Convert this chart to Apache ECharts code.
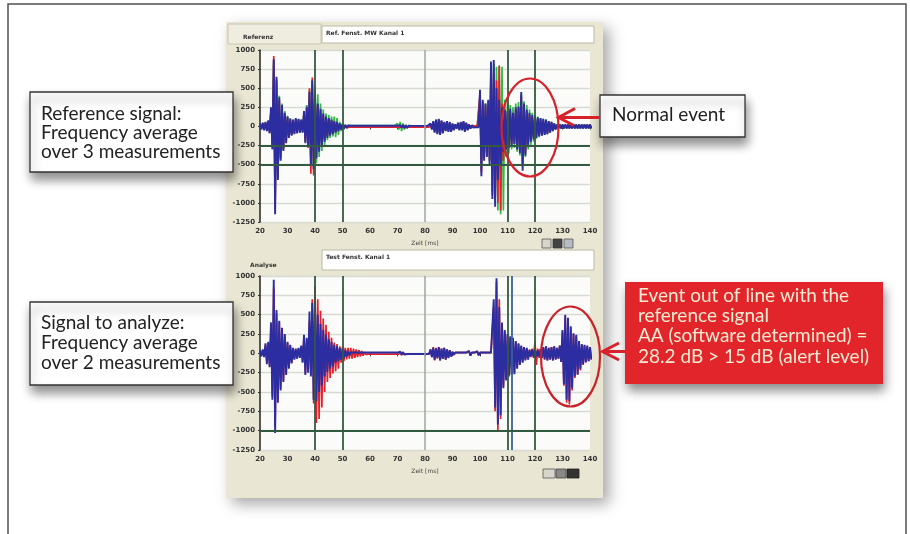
<!DOCTYPE html>
<html><head><meta charset="utf-8">
<script src="https://cdn.jsdelivr.net/npm/echarts@6/dist/echarts.min.js"></script>
<style>html,body{margin:0;padding:0;background:#fff}#c{width:910px;height:534px}</style>
</head><body><div id="c"></div>
<script>
// x positions (ms), one envelope value per ms from 20 to 140
const xStart = 20;
const xTicks = [20,30,40,50,60,70,80,90,100,110,120,130,140];
const yTicks = [1000,750,500,250,0,-250,-500,-750,-1000,-1250];
const xTitle = 'Zeit [ms]';

// Reference chart (3 measurements): upper / lower envelopes
const refBlueHi = [40,50,60,80,250,880,650,380,280,180, 130,100,90,110,100,90,200,260,450,600, 420,300,230,170,130,110,90,70,60,40, 30,20,12,10,10,10,10,10,10,10, 10,10,10,10,10,10,10,10,10,10, 10,15,20,15,10,8,8,8,8,8, 8,8,40,70,90,100,80,60,70,60, 40,30,50,60,70,50,30,15,10,10, 480,350,300,350,850,870,500,350,250,220, 200,230,180,250,260,450,300,220,180,150, 130,120,110,100,90,70,60,40,25,25, 25,25,25,25,25,25,25,25,25,25, 25];
const refBlueLo = [-40,-50,-60,-90,-300,-1150,-700,-450,-320,-220, -150,-120,-100,-90,-80,-80,-220,-260,-500,-560, -420,-330,-260,-200,-150,-120,-100,-80,-60,-40, -30,-20,-12,-10,-10,-10,-10,-10,-10,-10, -10,-10,-10,-10,-10,-10,-10,-10,-10,-10, -10,-15,-20,-20,-10,-8,-8,-8,-8,-8, -8,-8,-40,-80,-100,-110,-90,-60,-70,-70, -50,-30,-50,-50,-70,-50,-30,-15,-10,-10, -650,-450,-400,-500,-950,-1050,-700,-500,-330,-300, -280,-250,-230,-300,-350,-580,-380,-250,-200,-170, -150,-130,-120,-110,-100,-80,-60,-40,-25,-25, -25,-25,-25,-25,-25,-25,-25,-25,-25,-25, -25];
const refRedHi = [30,40,50,70,220,920,600,350,250,160, 120,90,80,90,90,80,180,240,500,640, 380,280,200,150,120,100,80,60,50,30, 25,15,10,8,8,8,8,8,8,8, 8,8,8,8,8,8,8,8,8,8, 8,10,12,10,8,8,8,8,8,8, 8,8,30,60,80,90,70,50,60,50, 30,25,40,50,60,40,25,12,8,8, 420,320,280,330,800,700,600,790,300,200, 180,200,170,220,240,400,280,200,160,130, 110,100,90,80,70,60,50,35,20,20, 20,20,20,20,20,20,20,20,20,20, 20];
const refRedLo = [-30,-40,-50,-80,-280,-1100,-650,-420,-300,-200, -140,-110,-90,-80,-70,-70,-200,-280,-620,-640, -400,-300,-240,-180,-130,-110,-90,-70,-50,-30, -25,-15,-10,-8,-8,-8,-8,-8,-8,-8, -8,-8,-8,-8,-8,-8,-8,-8,-8,-8, -8,-10,-12,-10,-8,-8,-8,-8,-8,-8, -8,-8,-30,-70,-90,-100,-80,-50,-60,-60, -40,-25,-40,-40,-60,-40,-25,-12,-8,-8, -600,-420,-380,-450,-900,-950,-1000,-1100,-450,-300, -260,-230,-210,-280,-320,-520,-350,-230,-180,-150, -130,-120,-110,-100,-90,-70,-50,-35,-20,-20, -20,-20,-20,-20,-20,-20,-20,-20,-20,-20, -20];
const refGreenHi = [30,40,50,60,200,850,620,400,300,200, 140,110,90,100,90,90,190,280,480,560, 520,420,300,220,170,150,130,130,110,60, 40,20,12,10,10,10,10,10,10,10, 10,10,10,10,10,10,10,10,10,10, 40,60,40,20,10,8,8,8,8,8, 8,8,35,60,90,90,70,55,60,50, 35,25,45,55,60,45,25,12,8,8, 400,330,300,330,700,820,780,800,780,350, 300,280,250,300,320,420,330,280,220,180, 150,130,110,100,90,70,60,40,25,25, 25,25,25,25,25,25,25,25,25,25, 25];
const refGreenLo = [-30,-40,-50,-70,-250,-1000,-680,-420,-300,-200, -140,-110,-90,-80,-80,-80,-200,-240,-420,-520, -480,-400,-320,-250,-180,-150,-130,-140,-110,-60, -40,-20,-12,-10,-10,-10,-10,-10,-10,-10, -10,-10,-10,-10,-10,-10,-10,-10,-10,-10, -40,-60,-40,-20,-10,-8,-8,-8,-8,-8, -8,-8,-35,-70,-90,-100,-80,-55,-60,-60, -40,-25,-40,-45,-60,-45,-25,-12,-8,-8, -550,-420,-380,-450,-850,-1000,-1100,-1150,-1100,-400, -350,-300,-280,-330,-380,-500,-400,-300,-250,-200, -160,-140,-120,-110,-100,-80,-60,-40,-25,-25, -25,-25,-25,-25,-25,-25,-25,-25,-25,-25, -25];

// Analysed chart (2 measurements)
const anaBlueHi = [40,50,130,150,400,950,560,420,330,250, 150,110,70,60,70,100,240,200,540,650, 670,500,380,300,240,180,150,110,90,70, 60,40,25,10,10,10,10,10,10,10, 10,10,10,10,10,10,10,10,10,10, 10,20,15,8,8,8,8,8,8,8, 8,8,50,70,60,80,60,70,50,40, 20,10,10,10,10,10,30,10,10,25, 10,10,10,10,10,700,970,600,400,300, 250,220,200,160,130,100,80,70,40,50, 40,40,50,80,90,70,80,90,70,100, 300,500,460,350,260,240,160,120,110,100, 80];
const anaBlueLo = [-40,-50,-140,-180,-600,-1030,-640,-480,-370,-280, -200,-130,-80,-70,-60,-120,-280,-250,-300,-600, -620,-500,-420,-300,-240,-200,-170,-120,-100,-80, -60,-40,-25,-10,-10,-10,-10,-10,-10,-10, -10,-10,-10,-10,-10,-10,-10,-10,-10,-10, -10,-20,-15,-8,-8,-8,-8,-8,-8,-8, -8,-8,-50,-80,-60,-90,-70,-80,-60,-40, -20,-10,-10,-10,-10,-10,-30,-10,-10,-25, -10,-10,-10,-10,-10,-700,-920,-800,-450,-350, -300,-280,-270,-200,-150,-120,-90,-80,-40,-50, -40,-40,-60,-80,-90,-80,-90,-80,-70,-110, -400,-600,-620,-450,-300,-270,-200,-140,-110,-100, -80];
const anaRedHi = [30,40,110,130,350,850,520,400,320,240, 140,100,60,50,60,90,220,180,420,700, 870,700,550,450,370,280,200,140,120,90, 80,70,70,70,60,50,40,30,15,10, 10,10,10,10,10,10,10,10,10,10, 10,25,15,8,8,8,8,8,8,8, 8,8,50,80,70,80,60,70,50,40, 20,10,10,10,10,10,30,10,10,25, 10,10,10,10,10,600,930,700,380,280, 230,200,180,150,120,90,70,60,50,60, 150,60,60,80,90,70,80,90,70,100, 280,480,440,330,250,220,150,110,100,90, 70];
const anaRedLo = [-30,-40,-120,-160,-550,-950,-600,-450,-350,-260, -190,-120,-70,-60,-50,-110,-260,-230,-280,-650, -900,-850,-700,-500,-370,-320,-260,-230,-200,-120, -100,-80,-70,-70,-60,-50,-40,-30,-15,-10, -10,-10,-10,-10,-10,-10,-10,-10,-10,-10, -10,-25,-15,-8,-8,-8,-8,-8,-8,-8, -8,-8,-50,-90,-70,-90,-70,-80,-60,-40, -20,-10,-10,-10,-10,-10,-30,-10,-10,-25, -10,-10,-10,-10,-10,-750,-1000,-850,-430,-330, -280,-260,-250,-190,-140,-110,-80,-70,-50,-60, -150,-60,-60,-80,-90,-80,-90,-80,-70,-110, -420,-640,-660,-480,-320,-280,-220,-150,-120,-100, -80];

// cursor lines
const refCursorX = [40, 50, 110, 120];
const refCursorY = [-250, -500];
const anaCursorX = [40, 50, 110, 120];
const anaCursorX2 = [111.5];
const anaCursorY = [-1000];
const midLineX = [80];

// ---------------------------------------------------------------
const C_BLUE = '#2B2DA0', C_RED = '#E3202B', C_GREEN = '#33B843';
const CUR = '#335A40';

function wave(hi, lo) {
  const pts = [];
  for (let i = 0; i < hi.length; i++) {
    pts.push([xStart + i, hi[i]]);
    pts.push([xStart + i + 0.5, lo[i]]);
  }
  return pts;
}
function waveSeries(idx, hi, lo, color, z, width, mark) {
  const s = {
    type: 'line', xAxisIndex: idx, yAxisIndex: idx, data: wave(hi, lo),
    showSymbol: false, symbol: 'none', z: z, silent: true,
    lineStyle: { color: color, width: width }, animation: false
  };
  if (mark) s.markLine = mark;
  return s;
}
function cursors(xs, ys, xs2) {
  const d = [];
  midLineX.forEach(v => d.push({ xAxis: v, lineStyle: { color: '#9DA89E', width: 1.5, type: 'solid' } }));
  xs.forEach(v => d.push({ xAxis: v, lineStyle: { color: CUR, width: 1.8, type: 'solid' } }));
  (xs2 || []).forEach(v => d.push({ xAxis: v, lineStyle: { color: '#3D5E9A', width: 1.8, type: 'solid' } }));
  ys.forEach(v => d.push({ yAxis: v, lineStyle: { color: CUR, width: 1.8, type: 'solid' } }));
  return { symbol: ['none', 'none'], silent: true, label: { show: false }, data: d, animation: false };
}

const axisLbl = { fontSize: 7, fontWeight: 'bold', color: '#333', fontFamily: 'DejaVu Sans' };
function xAx(i) {
  return {
    type: 'value', gridIndex: i, min: 20, max: 140, interval: 10,
    axisLine: { show: false }, axisTick: { show: true, length: 3, lineStyle: { color: '#333' } },
    axisLabel: Object.assign({ margin: 6, formatter: v => xTicks.includes(v) ? String(v) : '' }, axisLbl),
    splitLine: { show: false },
    name: xTitle, nameLocation: 'middle', nameGap: 18,
    nameTextStyle: { fontSize: 6, color: '#444', fontFamily: 'DejaVu Sans' }
  };
}
function yAx(i) {
  return {
    type: 'value', gridIndex: i, min: -1250, max: 1000, interval: 250,
    axisLine: { show: true, lineStyle: { color: '#222', width: 1.5 } },
    axisTick: { show: true, length: 2, lineStyle: { color: '#333' } },
    axisLabel: Object.assign({ margin: 5, formatter: v => yTicks.includes(v) ? String(v) : '' }, axisLbl),
    splitLine: { show: true, lineStyle: { color: '#D6DAD2', width: 1.3 } }
  };
}

// decorations
const fontA = '19px Lato';
function txt(x, y, s, font, fill, align) {
  return { type: 'text', x: x, y: y, z: 100, silent: true,
    style: { text: s, font: font, fill: fill || '#222', align: align || 'left', verticalAlign: 'middle', textVerticalAlign: 'middle' } };
}
const RED = '#D6222B';
const graphic = [
  // outer frame
  { type: 'rect', z: -20, shape: { x: 8, y: 4, width: 898, height: 560 }, style: { fill: '#fff', stroke: '#505050', lineWidth: 1.5 } },
  // software panel
  { type: 'rect', z: -10, shape: { x: 226, y: 22, width: 377, height: 476 },
    style: { fill: '#E9E6D3', shadowBlur: 14, shadowColor: 'rgba(0,0,0,0.35)', shadowOffsetX: 6, shadowOffsetY: 6 } },
  // tab & text fields
  { type: 'rect', z: -5, shape: { x: 228, y: 24, width: 93, height: 20 }, style: { fill: '#EFEDE0', stroke: '#C9C5B0', lineWidth: 1 } },
  txt(243, 37, 'Referenz', 'bold 6px DejaVu Sans', '#333'),
  { type: 'rect', z: 5, shape: { x: 322, y: 26, width: 272, height: 17 }, style: { fill: '#fff', stroke: '#BDB9A4', lineWidth: 1 } },
  txt(326, 33, 'Ref. Fenst. MW Kanal 1', 'bold 6px DejaVu Sans', '#333'),
  txt(250, 265, 'Analyse', 'bold 6px DejaVu Sans', '#333'),
  { type: 'rect', z: 5, shape: { x: 322, y: 250, width: 272, height: 20 }, style: { fill: '#fff', stroke: '#BDB9A4', lineWidth: 1 } },
  txt(326, 257, 'Test Fenst. Kanal 1', 'bold 6px DejaVu Sans', '#333'),
  // toolbar icons
  { type: 'rect', z: 5, shape: { x: 542, y: 239, width: 9, height: 9 }, style: { fill: '#D8D6CC', stroke: '#555', lineWidth: 0.8 } },
  { type: 'rect', z: 5, shape: { x: 553, y: 239, width: 9, height: 9 }, style: { fill: '#444', stroke: '#333', lineWidth: 0.8 } },
  { type: 'rect', z: 5, shape: { x: 564, y: 239, width: 9, height: 9 }, style: { fill: '#B8BBC4', stroke: '#555', lineWidth: 0.8 } },
  { type: 'rect', z: 5, shape: { x: 543, y: 469, width: 12, height: 9 }, style: { fill: '#D8D6CC', stroke: '#555', lineWidth: 0.8 } },
  { type: 'rect', z: 5, shape: { x: 556, y: 469, width: 10, height: 9 }, style: { fill: '#888', stroke: '#444', lineWidth: 0.8 } },
  { type: 'rect', z: 5, shape: { x: 567, y: 469, width: 12, height: 9 }, style: { fill: '#333', stroke: '#222', lineWidth: 0.8 } },

  // annotation box 1
  { type: 'rect', z: 90, shape: { x: 30, y: 92, width: 203, height: 80 },
    style: { fill: '#fff', stroke: '#333', lineWidth: 1.3, shadowBlur: 10, shadowColor: 'rgba(0,0,0,0.45)', shadowOffsetX: 2, shadowOffsetY: 7 } },
  txt(41, 114, 'Reference signal:', fontA),
  txt(41, 133, 'Frequency average', fontA),
  txt(41, 152, 'over 3 measurements', fontA),
  // annotation box 2
  { type: 'rect', z: 90, shape: { x: 30, y: 302, width: 203, height: 83 },
    style: { fill: '#fff', stroke: '#333', lineWidth: 1.3, shadowBlur: 10, shadowColor: 'rgba(0,0,0,0.45)', shadowOffsetX: 2, shadowOffsetY: 7 } },
  txt(41, 323, 'Signal to analyze:', fontA),
  txt(41, 343, 'Frequency average', fontA),
  txt(41, 363, 'over 2 measurements', fontA),
  // normal event box
  { type: 'rect', z: 90, shape: { x: 600, y: 95, width: 145, height: 42 },
    style: { fill: '#fff', stroke: '#333', lineWidth: 1.3, shadowBlur: 10, shadowColor: 'rgba(0,0,0,0.45)', shadowOffsetX: 2, shadowOffsetY: 7 } },
  txt(612, 115, 'Normal event', fontA),
  // red alert box
  { type: 'rect', z: 90, shape: { x: 625, y: 282, width: 258, height: 102 },
    style: { fill: '#E2252A', shadowBlur: 10, shadowColor: 'rgba(0,0,0,0.45)', shadowOffsetX: 2, shadowOffsetY: 7 } },
  txt(638, 296, 'Event out of line with the', fontA, '#FBEBD2'),
  txt(638, 316, 'reference signal', fontA, '#FBEBD2'),
  txt(638, 336, 'AA (software determined) =', fontA, '#FBEBD2'),
  txt(638, 357, '28.2 dB > 15 dB (alert level)', fontA, '#FBEBD2'),

  // ellipses
  { type: 'ellipse', z: 95, shape: { cx: 530, cy: 127.5, rx: 28.5, ry: 49 }, style: { fill: 'none', stroke: RED, lineWidth: 2.2 } },
  { type: 'ellipse', z: 95, shape: { cx: 570.5, cy: 356.5, rx: 29.5, ry: 50 }, style: { fill: 'none', stroke: '#C8232B', lineWidth: 2.2 } },
  // arrows
  { type: 'polyline', z: 95, shape: { points: [[600, 117.5], [560, 117.5]] }, style: { stroke: RED, lineWidth: 3, fill: 'none' } },
  { type: 'polyline', z: 95, shape: { points: [[575, 108.5], [558.5, 117.5], [574, 125.5]] }, style: { stroke: RED, lineWidth: 3, fill: 'none', lineJoin: 'miter' } },
  { type: 'polyline', z: 95, shape: { points: [[625, 351.5], [604, 351.5]] }, style: { stroke: RED, lineWidth: 3, fill: 'none' } },
  { type: 'polyline', z: 95, shape: { points: [[619, 343], [602.5, 351.5], [619, 360]] }, style: { stroke: RED, lineWidth: 3, fill: 'none', lineJoin: 'miter' } }
];

const chart = echarts.init(document.getElementById('c'), null, { renderer: 'canvas' });
chart.setOption({
  animation: false,
  backgroundColor: '#fff',
  grid: [
    { left: 260, top: 50, width: 330, height: 172, show: true, backgroundColor: '#FBFCF9', borderWidth: 0 },
    { left: 260, top: 276, width: 330, height: 174, show: true, backgroundColor: '#FBFCF9', borderWidth: 0 }
  ],
  xAxis: [xAx(0), xAx(1)],
  yAxis: [yAx(0), yAx(1)],
  series: [
    waveSeries(0, refGreenHi, refGreenLo, C_GREEN, 2, 1.7),
    waveSeries(0, refRedHi, refRedLo, C_RED, 3, 1.7),
    waveSeries(0, refBlueHi, refBlueLo, C_BLUE, 4, 1.9, cursors(refCursorX, refCursorY)),
    waveSeries(1, anaRedHi, anaRedLo, C_RED, 3, 1.7),
    waveSeries(1, anaBlueHi, anaBlueLo, C_BLUE, 4, 1.9, cursors(anaCursorX, anaCursorY, anaCursorX2))
  ],
  graphic: graphic
});
</script>
</body></html>
